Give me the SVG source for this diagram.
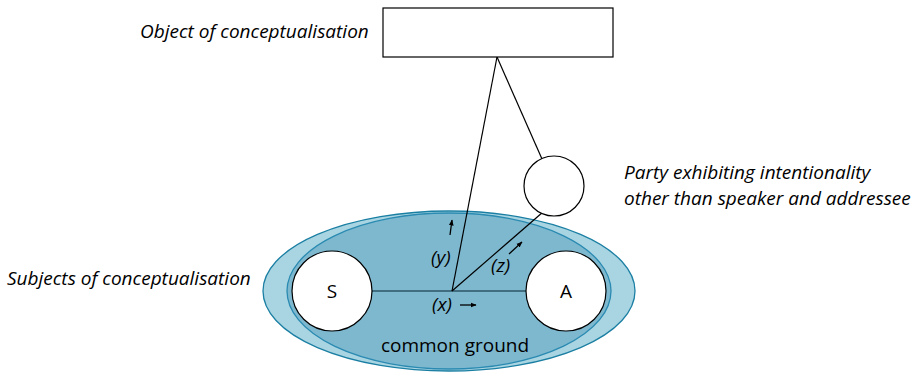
<svg xmlns="http://www.w3.org/2000/svg" width="915" height="374" viewBox="0 0 915 374">
<defs>
<marker id="ah" viewBox="0 0 10 10" refX="9" refY="5" markerWidth="6" markerHeight="6" orient="auto" markerUnits="userSpaceOnUse"><path d="M0,1 L10,5 L0,9 Z" fill="#000"/></marker>
</defs>
<style>
text{font-family:"Open Sans","Liberation Sans",sans-serif;fill:#000}
.it{font-style:italic;font-size:19px}
.lbl{font-size:19px}
.node{fill:#fff;stroke:#000;stroke-width:1.2}
.ln{stroke:#000;stroke-width:1.2;fill:none}
.sm{stroke:#000;stroke-width:1.3;fill:none;marker-end:url(#ah)}
</style>
<rect width="915" height="374" fill="#fff"/>
<g id="outer-ellipse"><ellipse cx="449" cy="291" rx="186" ry="80" fill="#a9d5e2" stroke="#1b7fa3" stroke-width="1.3"/></g>
<g id="common-ground"><ellipse cx="449" cy="291" rx="162" ry="78" fill="#7db8cf" stroke="#2a8ab1" stroke-width="1.3"/>
<text x="455" y="352" text-anchor="middle" style="font-size:19px">common ground</text></g>
<g id="connectors">
<line x1="372" y1="291" x2="526" y2="291" style="stroke:#2d5564;stroke-width:1.6"/>
<line class="ln" x1="497" y1="57" x2="452" y2="291"/>
<line class="ln" x1="497" y1="57" x2="542" y2="159"/>
<line class="ln" x1="452" y1="291" x2="543" y2="212"/>
<line class="sm" x1="450" y1="235" x2="452" y2="220"/>
<line class="sm" x1="509" y1="254" x2="522" y2="242"/>
<line class="sm" x1="460" y1="305" x2="476" y2="305"/>
</g>
<g id="object"><rect class="node" x="383" y="8" width="230" height="49"/>
<text class="it" x="140" y="38">Object of conceptualisation</text></g>
<g id="party"><circle class="node" cx="554" cy="186" r="30"/>
<text class="it" x="624" y="179">Party exhibiting intentionality</text>
<text class="it" x="624" y="205">other than speaker and addressee</text></g>
<g id="S"><circle class="node" cx="332" cy="291" r="40"/><text class="lbl" x="332" y="298" text-anchor="middle">S</text></g>
<g id="A"><circle class="node" cx="566" cy="291" r="40"/><text class="lbl" x="566" y="298" text-anchor="middle">A</text></g>
<g id="labels">
<text class="it" x="7" y="285">Subjects of conceptualisation</text>
<text class="it" x="431" y="264">(y)</text>
<text class="it" x="491" y="272">(z)</text>
<text class="it" x="432" y="311">(x)</text>
</g>
</svg>
